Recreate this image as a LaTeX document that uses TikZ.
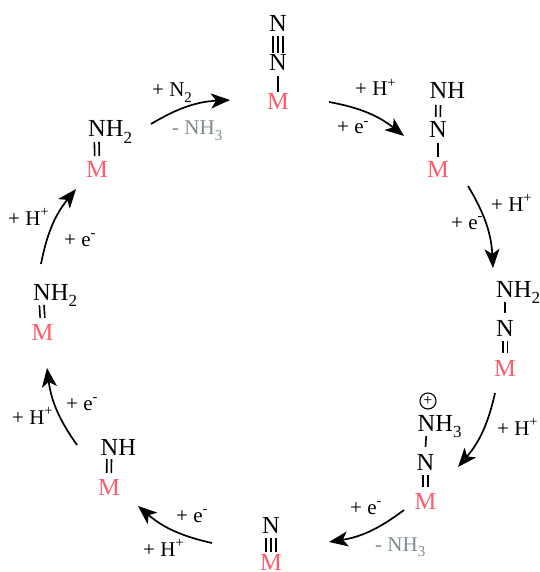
\documentclass[tikz,border=0pt]{standalone}
\usepackage{fontspec}
\setmainfont{Liberation Serif}
\usetikzlibrary{arrows.meta,calc}
\definecolor{metal}{HTML}{FF5C6C}
\definecolor{lost}{HTML}{7F8A8F}
\newcommand\lowr[1]{\raisebox{-0.27em}{\fontsize{17}{17}\selectfont #1}}
\newcommand\lowl[1]{\raisebox{-0.27em}{\fontsize{15}{15}\selectfont #1}}
\newcommand\upl[1]{\raisebox{0.42em}{\fontsize{14.5}{14.5}\selectfont #1}}
\tikzset{
  atom/.style={inner sep=0pt,anchor=base,font=\fontsize{24.5}{25}\selectfont,text=black},
  atomw/.style={inner sep=0pt,anchor=base west,font=\fontsize{24.5}{25}\selectfont,text=black},
  metalatom/.style={atom,text=metal},
  lbl/.style={inner sep=0pt,anchor=base west,font=\fontsize{21}{22}\selectfont,text=black},
  lostlbl/.style={lbl,text=lost},
  sbond/.style={line width=1.6pt},
  dbond/.style={line width=1.6pt,double,double distance=3pt},
  tbond/.style={line width=1.6pt,double,double distance=8pt},
  rxn/.style={line width=1.7pt,-{Stealth[length=19pt,width=15pt,inset=5pt]}},
}
\begin{document}
\begin{tikzpicture}[x=1pt,y=-1pt]
\useasboundingbox (0,0) rectangle (539,572);
% top: N2 on M
\node[atom] (a1) at (278,32) {N};
\node[atom] (a2) at (278,71) {N};
\node[metalatom] (a3) at (278,110) {M};
\draw[tbond] ([yshift=-4.5pt]a1.base) -- ([yshift=17.5pt]a2.base);
\draw[sbond] ([yshift=-4.5pt]a1.base) -- ([yshift=17.5pt]a2.base);
\draw[sbond] ([yshift=-5pt]a2.base) -- ([yshift=18pt]a3.base);
% NNH
\node[atomw] (b1) at (429.5,99) {NH};
\coordinate (b1c) at ([xshift=8.7pt]b1.base west);
\node[atom] (b2) at (438,138) {N};
\node[metalatom] (b3) at (438,178) {M};
\draw[dbond] ([yshift=-6pt]b1c) -- ([yshift=21pt]b2.base);
\draw[sbond] ([yshift=-5pt]b2.base) -- ([yshift=21pt]b3.base);
% NNH2
\node[atomw] (c1) at (496,297) {NH\lowr{2}};
\coordinate (c1c) at ([xshift=9pt]c1.base west);
\node[atom] (c2) at (505,336) {N};
\node[metalatom] (c3) at (505,376) {M};
\draw[sbond] ([yshift=-5pt]c1c) -- ([yshift=23pt]c2.base);
\draw[dbond] ([yshift=-5pt]c2.base) -- ([yshift=23pt]c3.base);
% NNH3+
\node[atomw] (d1) at (417.5,431) {NH\lowr{3}};
\coordinate (d1c) at ([xshift=8.7pt]d1.base west);
\node[atom] (d2) at (425.5,470) {N};
\node[metalatom] (d3) at (425.5,509) {M};
\node[draw,circle,line width=1.1pt,minimum size=16pt,inner sep=0pt,font=\fontsize{16}{16}\selectfont] (dp) at (428,401) {+};
\draw[sbond] ([yshift=-5pt]d1c) -- ([yshift=23pt]d2.base);
\draw[dbond] ([yshift=-5pt]d2.base) -- ([yshift=22pt]d3.base);
% N on M
\node[atom] (e1) at (271,533) {N};
\node[metalatom] (e2) at (271,570) {M};
\draw[tbond] ([yshift=-5pt]e1.base) -- ([yshift=18.5pt]e2.base);
\draw[sbond] ([yshift=-5pt]e1.base) -- ([yshift=18.5pt]e2.base);
% NH on M
\node[atomw] (f1) at (100.5,455) {NH};
\coordinate (f1c) at ([xshift=8.7pt]f1.base west);
\node[metalatom] (f2) at (109,495) {M};
\draw[dbond] ([yshift=-4pt]f1c) -- ([yshift=22pt]f2.base);
% NH2 on M, lower
\node[atomw] (g1) at (33,300) {NH\lowr{2}};
\coordinate (g1c) at ([xshift=8.7pt]g1.base west);
\node[metalatom] (g2) at (42.5,340) {M};
\draw[dbond] ([yshift=-5pt]g1c) -- ([yshift=22pt]g2.base);
% NH2 on M, upper
\node[atomw] (h1) at (88,137) {NH\lowr{2}};
\coordinate (h1c) at ([xshift=8.7pt]h1.base west);
\node[metalatom] (h2) at (97,177) {M};
\draw[dbond] ([yshift=-5pt]h1c) -- ([yshift=21pt]h2.base);
% arrow ends
\coordinate (s1) at (329,102);   \coordinate (t1) at (404,136);
\coordinate (s2) at (468,186);   \coordinate (t2) at (493,268);
\coordinate (s3) at (495,393);   \coordinate (t3) at (458,467);
\coordinate (s4) at (404,510);   \coordinate (t4) at (329,542);
\coordinate (s5) at (212,543);   \coordinate (t5) at (138,506);
\coordinate (s6) at (77,445);    \coordinate (t6) at (47,368);
\coordinate (s7) at (41,264);    \coordinate (t7) at (76,189);
\coordinate (s8) at (151,124);   \coordinate (t8) at (230,100);
\draw[rxn] (s1) to[bend left=14] (t1);
\draw[rxn] (s2) to[bend left=14] (t2);
\draw[rxn] (s3) to[bend left=14] (t3);
\draw[rxn] (s4) to[bend left=14] (t4);
\draw[rxn] (s5) to[bend left=14] (t5);
\draw[rxn] (s6) to[bend left=14] (t6);
\draw[rxn] (s7) to[bend left=14] (t7);
\draw[rxn] (s8) to[bend left=14] (t8);
% labels
\node[lbl] (l1) at (355,96) {+ H\upl{+}};
\node[lbl] (l2) at (337,134) {+ e\upl{-}};
\node[lbl] (l3) at (491,211) {+ H\upl{+}};
\node[lbl] (l4) at (451,229) {+ e\upl{-}};
\node[lbl] (l5) at (497,435) {+ H\upl{+}};
\node[lbl] (l6) at (350,514) {+ e\upl{-}};
\node[lostlbl] (l7) at (375,551) {- NH\lowl{3}};
\node[lbl] (l8) at (176,522) {+ e\upl{-}};
\node[lbl] (l9) at (143,556) {+ H\upl{+}};
\node[lbl] (l10) at (66,410) {+ e\upl{-}};
\node[lbl] (l11) at (12,424) {+ H\upl{+}};
\node[lbl] (l12) at (8,225) {+ H\upl{+}};
\node[lbl] (l13) at (64,246) {+ e\upl{-}};
\node[lbl] (l14) at (152,97) {+ N\lowl{2}};
\node[lostlbl] (l15) at (172,135) {- NH\lowl{3}};
\end{tikzpicture}
\end{document}
